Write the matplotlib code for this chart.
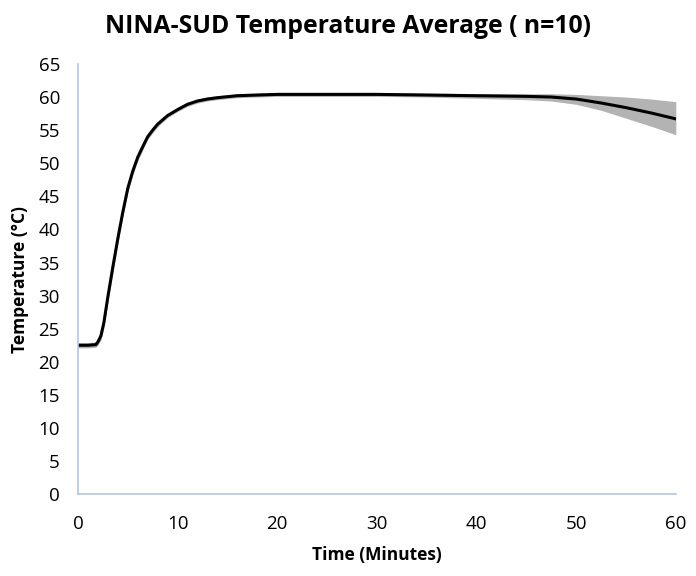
import numpy as np
import matplotlib
matplotlib.use("Agg")
import matplotlib.pyplot as plt

# averaged temperature curve
time_min = [0, 1, 1.8, 2.0, 2.3, 2.6, 3.0, 3.5, 4.0, 4.5, 5.0, 5.5, 6.0, 6.5, 7.0, 7.5, 8.0, 9.0,
            10, 11, 12, 13, 14, 16, 18, 20, 25, 30, 35, 40, 45, 47.5, 50, 52.5, 55, 57.5, 60]
temp_mean = [22.5, 22.5, 22.6, 23.0, 23.9, 25.9, 29.8, 34.3, 38.6, 42.6, 46.2, 48.8, 50.9, 52.5, 54.0, 55.0, 55.9, 57.2,
             58.1, 58.9, 59.4, 59.7, 59.9, 60.2, 60.3, 60.4, 60.4, 60.4, 60.3, 60.2, 60.1, 60.0, 59.7, 59.1, 58.4, 57.6, 56.7]
temp_upper = [22.9, 22.9, 23.0, 23.5, 24.5, 26.6, 30.6, 35.1, 39.3, 43.3, 46.8, 49.4, 51.4, 53.0, 54.4, 55.4, 56.3, 57.5,
              58.4, 59.2, 59.7, 60.0, 60.2, 60.5, 60.6, 60.7, 60.7, 60.7, 60.6, 60.5, 60.5, 60.5, 60.4, 60.2, 60.0, 59.7, 59.3]
temp_lower = [22.1, 22.1, 22.2, 22.5, 23.3, 25.2, 29.0, 33.5, 37.9, 41.9, 45.6, 48.2, 50.4, 52.0, 53.6, 54.6, 55.5, 56.9,
              57.8, 58.6, 59.1, 59.4, 59.6, 59.9, 60.0, 60.1, 60.1, 60.1, 60.0, 59.8, 59.6, 59.4, 58.9, 58.0, 56.8, 55.6, 54.3]

plt.rcParams['font.family'] = ['Open Sans', 'DejaVu Sans']

fig = plt.figure(figsize=(6.96, 5.76), dpi=100)
ax = fig.add_axes([0.112, 0.142, 0.859, 0.747])

ax.fill_between(time_min, temp_lower, temp_upper, color="#b3b3b3", lw=0)
ax.plot(time_min, temp_mean, color="black", lw=2.2, solid_joinstyle="round")

ax.set_xlim(0, 60)
ax.set_ylim(0, 65)
ax.set_xticks(np.arange(0, 61, 10))
ax.set_yticks(np.arange(0, 66, 5))
ax.tick_params(length=0, labelsize=13.5)
ax.tick_params(axis="y", pad=13)
ax.tick_params(axis="x", pad=15)

for side in ["top", "right"]:
    ax.spines[side].set_visible(False)
for side in ["left", "bottom"]:
    ax.spines[side].set_color("#b8c8d8")
    ax.spines[side].set_linewidth(1.2)

ax.set_xlabel("Time (Minutes)", fontsize=12.5, fontweight="bold", labelpad=9)
ax.set_ylabel("Temperature (°C)", fontsize=12.5, fontweight="bold", labelpad=7)
fig.suptitle("NINA-SUD Temperature Average ( n=10)", fontsize=17.8, fontweight="bold", y=0.975)

fig.savefig("out.png", dpi=100)
